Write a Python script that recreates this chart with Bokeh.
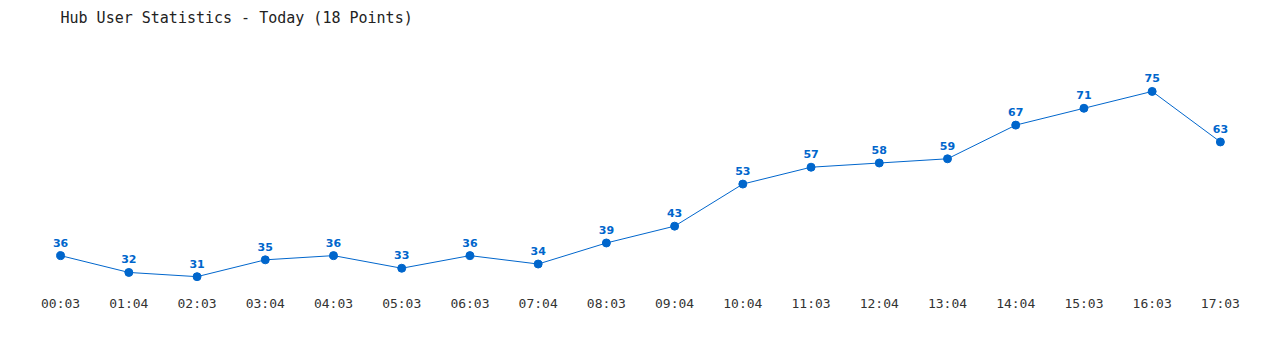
from bokeh.plotting import figure
from bokeh.models import ColumnDataSource, FixedTicker, Range1d, Title
from bokeh.core.properties import value
from bokeh.embed import file_html
from bokeh.resources import INLINE

times = ["00:03", "01:04", "02:03", "03:04", "04:03", "05:03", "06:03", "07:04", "08:03",
         "09:04", "10:04", "11:03", "12:04", "13:04", "14:04", "15:03", "16:03", "17:03"]
users = [36, 32, 31, 35, 36, 33, 36, 34, 39, 43, 53, 57, 58, 59, 67, 71, 75, 63]
title_text = "Hub User Statistics - Today (18 Points)"

idx = list(range(len(times)))
src = ColumnDataSource(dict(x=idx, y=users, lbl=[str(u) for u in users]))

BLUE = "#0066cc"
p = figure(width=1280, height=350, output_backend="svg", toolbar_location=None,
           x_range=Range1d(-0.5, len(times) - 0.5), y_range=Range1d(28.9, 87.1),
           min_border_left=26, min_border_right=26, min_border_top=40, min_border_bottom=65)
p.title = None
p.outline_line_color = None
p.background_fill_color = "white"
p.border_fill_color = "white"
p.xgrid.visible = False
p.ygrid.visible = False
p.yaxis.visible = False

p.line("x", "y", source=src, line_color=BLUE, line_width=1)
p.scatter("x", "y", source=src, size=8, fill_color=BLUE, line_color=BLUE)
p.text("x", "y", text="lbl", source=src, text_align="center", text_baseline="bottom",
       y_offset=-9, text_font=value("DejaVu Sans"), text_font_size="11px",
       text_font_style="bold", text_color=BLUE)

spacer = Title(text=" ", text_font_size="11px", standoff=0)
p.add_layout(spacer, "above")
main_title = Title(text=title_text, text_font="DejaVu Sans Mono", text_font_size="15px",
                   text_font_style="normal", text_color="#222222", offset=34, standoff=0)
p.add_layout(main_title, "above")

ax = p.xaxis[0]
ax.ticker = FixedTicker(ticks=idx)
ax.major_label_overrides = {i: t for i, t in enumerate(times)}
ax.axis_line_color = None
ax.major_tick_line_color = None
ax.minor_tick_line_color = None
ax.major_label_text_font = "DejaVu Sans Mono"
ax.major_label_text_font_size = "13px"
ax.major_label_text_color = "#333333"
ax.major_label_standoff = 4

open("out.html", "w").write(file_html(p, INLINE))
